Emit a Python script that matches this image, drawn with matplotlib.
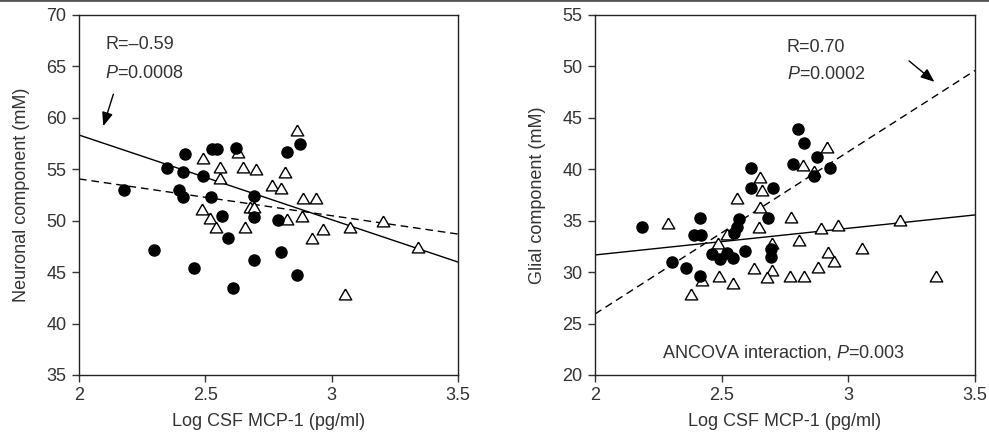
import matplotlib
matplotlib.use("Agg")
import matplotlib.pyplot as plt
from matplotlib.lines import Line2D

plt.rcParams['font.family'] = ['Liberation Sans', 'DejaVu Sans']
plt.rcParams['mathtext.fontset'] = 'custom'
plt.rcParams['mathtext.rm'] = 'Liberation Sans'
plt.rcParams['mathtext.it'] = 'Liberation Sans:italic'

# Left panel: neuronal component
left_circle_x = [2.179, 2.349, 2.419, 2.413, 2.397, 2.413, 2.489, 2.521, 2.525, 2.545, 2.621, 2.693,
                 2.822, 2.875, 2.565, 2.693, 2.786, 2.588, 2.297, 2.798, 2.691, 2.456, 2.861, 2.609]
left_circle_y = [53.0, 55.1, 56.45, 54.77, 52.99, 52.34, 54.35, 52.34, 56.94, 56.94, 57.04, 52.44,
                 56.71, 57.43, 50.46, 50.39, 50.07, 48.3, 47.15, 46.93, 46.15, 45.37, 44.72, 43.49]
left_tri_x = [2.864, 2.492, 2.631, 2.558, 2.558, 2.648, 2.700, 2.815, 2.762, 2.799, 2.885, 2.936, 2.485,
              2.677, 2.694, 2.518, 2.541, 2.657, 2.822, 2.881, 2.967, 2.921, 3.072, 3.204, 3.340, 3.054]
left_tri_y = [58.82, 56.07, 56.65, 55.19, 54.12, 55.26, 55.03, 54.77, 53.47, 53.15, 52.24, 52.18, 51.11,
              51.30, 51.30, 50.3, 49.42, 49.42, 50.14, 50.46, 49.17, 48.3, 49.42, 50.0, 47.42, 42.87]
left_fit_x = [2.0, 3.5]
left_fit_solid = [58.33, 45.98]
left_fit_dashed = [54.06, 48.7]

# Right panel: glial component
right_circle_x = [2.803, 2.825, 2.877, 2.783, 2.928, 2.865, 2.615, 2.615, 2.702, 2.415, 2.570, 2.684,
                  2.562, 2.549, 2.391, 2.417, 2.303, 2.358, 2.415, 2.461, 2.493, 2.520, 2.543, 2.592,
                  2.694, 2.694, 2.184]
right_circle_y = [43.89, 42.59, 41.16, 40.48, 40.15, 39.35, 40.15, 38.21, 38.21, 35.29, 35.17, 35.29,
                  34.42, 33.84, 33.61, 33.61, 31.02, 30.37, 29.66, 31.73, 31.25, 31.83, 31.41, 32.06,
                  32.22, 31.5, 34.42]
right_tri_x = [2.917, 2.820, 2.865, 2.651, 2.658, 2.562, 2.651, 2.773, 2.647, 2.891, 2.961, 2.289, 2.520,
               2.487, 2.700, 2.805, 2.918, 2.943, 2.628, 2.700, 2.882, 2.491, 2.680, 2.770, 2.825, 2.421,
               2.543, 2.378, 3.204, 3.055, 3.345]
right_tri_y = [42.2, 40.42, 39.86, 39.28, 37.99, 37.18, 36.3, 35.33, 34.36, 34.26, 34.58, 34.75, 33.68,
               32.86, 32.8, 33.13, 31.99, 31.12, 30.37, 30.2, 30.47, 29.63, 29.5, 29.63, 29.63, 29.24,
               28.91, 27.87, 35.07, 32.32, 29.65]
right_fit_x = [2.0, 3.5]
right_fit_dashed = [25.93, 49.6]
right_fit_solid = [31.67, 35.56]

x_ticks = [2, 2.5, 3, 3.5]
x_ticklabels = ["2", "2.5", "3", "3.5"]

tri = [(0, 0.433), (-0.5, -0.433), (0.5, -0.433), (0, 0.433)]
txt = '#333333'

fig = plt.figure(figsize=(9.89, 4.42), dpi=100)
ax1 = fig.add_axes([0.0799, 0.1516, 0.3832, 0.8145])
ax2 = fig.add_axes([0.6016, 0.1516, 0.3842, 0.8145])

# thin rule along the top edge
fig.add_artist(Line2D([0, 1], [0.999, 0.999], color='#555555', lw=2, transform=fig.transFigure))


def style(ax, ylim, yticks, ylabel):
    ax.set_xlim(2, 3.5)
    ax.set_ylim(*ylim)
    ax.set_xticks(x_ticks)
    ax.set_xticklabels(x_ticklabels)
    ax.set_yticks(yticks)
    ax.tick_params(direction='out', length=5, width=1, labelsize=13, colors='#333333',
                   labelcolor=txt, pad=4)
    for s in ax.spines.values():
        s.set_color('#222222')
        s.set_linewidth(1)
    ax.set_xlabel("Log CSF MCP-1 (pg/ml)", fontsize=13, color=txt, labelpad=6)
    ax.set_ylabel(ylabel, fontsize=13, color=txt, labelpad=12)


def points(ax, cx, cy, tx, ty):
    ax.plot(tx, ty, linestyle='none', marker=tri, markersize=9, markerfacecolor='white',
            markeredgecolor='black', markeredgewidth=1, clip_on=False)
    ax.plot(cx, cy, linestyle='none', marker='o', markersize=8, markerfacecolor='black',
            markeredgecolor='black', clip_on=False)


arrow = dict(arrowstyle='-|>,head_length=0.55,head_width=0.22', color='black', lw=1,
             mutation_scale=15, shrinkA=0, shrinkB=0)

# left
ax1.plot(left_fit_x, left_fit_solid, color='black', lw=1)
ax1.plot(left_fit_x, left_fit_dashed, color='black', lw=1, dashes=(5.5, 3.5))
points(ax1, left_circle_x, left_circle_y, left_tri_x, left_tri_y)
style(ax1, (35, 70), range(35, 71, 5), "Neuronal component (mM)")
ax1.text(2.103, 67.1, "R=\u20130.59", fontsize=13, color=txt, va='center', ha='left')
ax1.text(2.103, 64.35, r"$\it{P}$=0.0008", fontsize=13, color=txt, va='center', ha='left')
ax1.annotate("", xy=(2.096, 59.2), xytext=(2.136, 62.3), arrowprops=arrow)

# right
ax2.plot(right_fit_x, right_fit_solid, color='black', lw=1)
ax2.plot(right_fit_x, right_fit_dashed, color='black', lw=1, dashes=(5.5, 3.5))
points(ax2, right_circle_x, right_circle_y, right_tri_x, right_tri_y)
style(ax2, (20, 55), range(20, 56, 5), "Glial component (mM)")
ax2.text(2.757, 51.86, "R=0.70", fontsize=13, color=txt, va='center', ha='left')
ax2.text(2.757, 49.26, r"$\it{P}$=0.0002", fontsize=13, color=txt, va='center', ha='left')
ax2.annotate("", xy=(3.34, 48.5), xytext=(3.24, 50.53), arrowprops=arrow)
ax2.text(2.745, 22.2, r"ANCOVA interaction, $\it{P}$=0.003", fontsize=13, color=txt,
         va='center', ha='center')

fig.savefig("out.png", dpi=100)
